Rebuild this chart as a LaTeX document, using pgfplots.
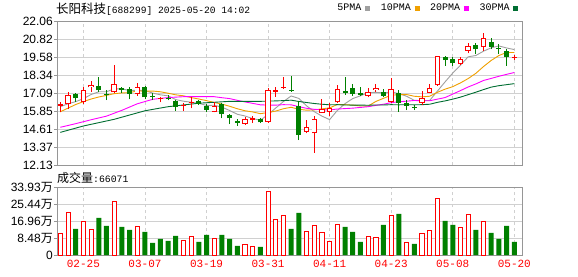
\documentclass[border=0pt]{standalone}
\usepackage{fontspec}
\setmainfont{Liberation Sans}
\newfontfamily\cjk{Noto Sans CJK SC}
\newfontfamily\mono{Liberation Mono}
\usepackage{pgfplots}
\usepackage{pgfplotstable}
\pgfplotsset{compat=1.18}
\definecolor{kred}{RGB}{255,0,0}
\definecolor{kgreen}{RGB}{0,128,0}
\definecolor{maA}{RGB}{160,160,160}
\definecolor{maB}{RGB}{240,160,0}
\definecolor{maC}{RGB}{255,0,255}
\definecolor{maD}{RGB}{0,110,50}
\definecolor{gridc}{RGB}{208,208,208}
\definecolor{framec}{RGB}{150,150,150}

% hollow up candles
\pgfplotstableread{
i o h l c
1 16.34 17.14 15.99 16.94
3 16.45 17.51 16.32 17.28
4 17.49 17.92 17.18 17.65
7 17.14 19.03 17.07 17.69
10 17.01 17.76 16.91 17.49
20 15.80 16.50 15.76 16.22
24 14.98 15.46 14.89 15.28
27 15.12 17.42 15.05 17.28
32 14.43 15.23 14.31 14.73
33 14.31 15.51 12.98 15.30
34 15.70 16.66 15.70 15.97
35 15.80 16.43 15.51 16.08
36 16.45 17.65 16.39 17.35
40 16.89 17.42 16.80 17.14
41 17.30 17.69 17.18 17.46
43 16.50 18.15 16.43 17.35
47 16.39 17.23 16.27 16.77
48 17.12 17.72 17.07 17.42
49 17.63 19.65 17.60 19.65
52 19.09 19.60 19.03 19.46
53 20.01 20.52 19.83 20.34
55 20.25 21.25 20.01 20.87
}\uph
% small up candles
\pgfplotstableread{
i o h l c
0 16.22 16.50 15.76 16.34
13 16.68 16.84 16.45 16.75
16 16.20 16.43 15.87 16.27
17 16.39 16.84 16.04 16.50
25 15.23 15.53 15.01 15.35
28 17.18 17.53 16.84 17.30
29 17.46 18.22 17.37 17.53
59 19.50 19.70 19.40 19.57
}\ups
% down candles
\pgfplotstableread{
i o h l c
2 17.03 17.12 16.50 16.73
5 17.58 18.18 17.18 17.30
6 17.02 17.30 16.61 16.95
8 17.42 17.49 17.12 17.32
9 17.35 17.49 16.66 17.01
11 17.49 17.55 16.66 16.80
12 16.91 17.07 16.61 16.84
14 16.73 16.96 16.59 16.66
15 16.54 16.61 15.87 16.15
18 16.52 16.61 16.27 16.34
19 16.22 16.32 15.76 15.92
21 16.34 16.43 15.35 15.63
22 15.58 15.63 14.94 15.35
23 15.16 15.28 14.82 15.05
26 15.28 15.35 15.01 15.07
30 17.33 18.29 17.18 17.26
31 16.20 16.55 13.85 14.20
37 17.23 18.22 16.96 17.12
38 17.42 17.72 16.89 17.01
39 17.07 17.53 16.89 16.96
42 17.14 17.35 16.84 16.91
44 17.12 17.30 15.80 16.43
45 16.43 16.61 15.92 16.20
46 16.15 16.27 15.92 16.08
50 19.56 19.65 18.98 19.37
51 19.42 19.60 18.98 19.14
54 20.40 20.52 19.78 20.11
56 20.59 20.87 20.11 20.25
57 20.22 20.47 19.78 20.15
58 20.01 20.11 18.98 19.60
}\dn

\pgfplotstableread{
i v
0 16.15
1 16.35
2 16.50
3 16.70
4 16.99
5 17.18
6 17.18
7 17.38
8 17.38
9 17.26
10 17.29
11 17.26
12 17.09
13 16.97
14 16.90
15 16.64
16 16.53
17 16.46
18 16.38
19 16.24
20 16.25
21 16.12
22 15.89
23 15.63
24 15.51
25 15.33
26 15.22
27 15.61
28 16.06
29 16.51
30 16.89
31 16.72
32 16.21
33 15.81
34 15.50
35 15.26
36 15.89
37 16.36
38 16.71
39 16.90
40 17.12
41 17.14
42 17.10
43 17.16
44 17.06
45 16.87
46 16.59
47 16.57
48 16.58
49 17.22
50 17.86
51 18.47
52 19.01
53 19.59
54 19.68
55 19.98
56 20.21
57 20.34
58 20.20
59 20.09
}\maFive

\pgfplotstableread{
i v
0 15.80
1 16.05
2 16.30
3 16.50
4 16.68
5 16.82
6 16.93
7 17.05
8 17.10
9 17.12
10 17.24
11 17.22
12 17.23
13 17.18
14 17.08
15 16.97
16 16.90
17 16.78
18 16.68
19 16.57
20 16.44
21 16.33
22 16.18
23 16.01
24 15.87
25 15.79
26 15.67
27 15.75
28 15.85
29 16.01
30 16.11
31 15.97
32 15.91
33 15.93
34 16.00
35 16.07
36 16.30
37 16.29
38 16.26
39 16.20
40 16.19
41 16.51
42 16.73
43 16.94
44 16.98
45 16.99
46 16.87
47 16.83
48 16.87
49 17.14
50 17.36
51 17.53
52 17.79
53 18.09
54 18.45
55 18.92
56 19.34
57 19.68
58 19.89
59 19.89
}\maTen

\pgfplotstableread{
i v
0 14.73
2 14.98
4 15.25
6 15.50
8 15.90
10 16.35
12 16.66
14 16.78
16 16.84
18 16.84
19 16.85
20 16.84
21 16.77
22 16.71
23 16.59
24 16.48
25 16.38
26 16.28
27 16.26
28 16.26
29 16.29
30 16.28
31 16.15
32 16.04
33 15.97
34 15.94
35 15.93
36 15.99
37 16.02
38 16.05
39 16.10
40 16.15
41 16.24
42 16.32
43 16.43
44 16.49
45 16.53
46 16.58
47 16.56
48 16.56
49 16.67
50 16.78
51 17.02
52 17.26
53 17.51
54 17.72
55 17.96
56 18.10
57 18.25
58 18.38
59 18.51
}\maTwenty

\pgfplotstableread{
i v
0 14.38
3 14.82
7 15.28
11 15.87
14 16.15
18 16.39
22 16.52
26 16.52
28 16.55
29 16.57
30 16.60
31 16.51
32 16.44
33 16.37
34 16.32
35 16.28
36 16.29
37 16.27
38 16.26
39 16.26
40 16.25
41 16.27
42 16.27
43 16.29
44 16.28
45 16.29
46 16.28
47 16.29
48 16.32
49 16.45
50 16.55
51 16.67
52 16.81
53 16.98
54 17.15
55 17.33
56 17.50
57 17.60
58 17.67
59 17.74
}\maThirty

% volume (10k shares)
\pgfplotstableread{
i v
0 10.8
1 21.3
3 16.8
4 12.8
7 26.9
10 14.3
16 7.3
17 9.5
20 8.5
24 5.3
25 4.5
27 31.9
28 18.0
29 20.0
32 12.0
33 14.8
34 11.3
35 7.0
36 15.3
40 9.5
41 9.0
43 20.0
45 6.5
47 11.0
48 12.5
49 28.4
52 14.0
53 20.3
55 17.0
}\volup

\pgfplotstableread{
i v
2 13.0
5 18.5
6 14.5
8 14.0
9 12.5
11 11.5
12 6.0
13 8.0
14 7.0
15 9.5
18 6.5
19 10.0
21 10.0
22 8.0
23 4.5
26 4.0
30 13.0
31 21.0
37 14.0
38 11.5
39 6.5
42 15.0
44 20.5
46 5.5
50 17.0
51 15.0
54 12.5
56 11.0
57 8.0
58 14.5
59 6.6
}\voldn

\pgfplotsset{
  kframe/.style={
    scale only axis, width=465pt,
    xmin=-0.43, xmax=60,
    axis line style={framec, line width=0.8pt},
    xtick={3,11,19,27,35,43,51,59},
    xmajorgrids, ymajorgrids,
    x grid style={gridc, line width=0.8pt, dash pattern=on 3pt off 3pt},
    y grid style={gridc, line width=0.8pt},
    xtick style={draw=none},
    ytick style={framec, line width=0.8pt},
    major tick length=3pt, tick align=outside,
    ytick pos=left,
    yticklabel style={font=\fontsize{12}{13}\selectfont, inner sep=1pt},
  },
  wick/.style={draw=none, mark=none, forget plot,
    error bars/.cd, y dir=plus, y explicit, error mark=none,
    error bar style={draw=#1, line width=0.9pt}},
  body/.style 2 args={draw=none, mark=none, forget plot,
    error bars/.cd, y dir=plus, y explicit, error mark=none,
    error bar style={draw=#1, line width=#2}},
}

\begin{document}
\begin{tikzpicture}
\fill[white] (0,0) rectangle (578pt,276pt);
\path[use as bounding box] (0,0) rectangle (578pt,276pt);

\node[anchor=west, inner sep=0pt] at (56pt,266.5pt)
  {{\cjk\fontsize{12.5}{14}\selectfont 长阳科技}{\mono\fontsize{9.6}{11}\selectfont[688299] 2025-05-20 14:02}};

\begin{axis}[kframe,
  at={(57pt,111pt)}, anchor=south west, height=144pt,
  ymin=12.13, ymax=22.06,
  xticklabels={},
  ytick={12.13,13.37,14.61,15.85,17.09,18.34,19.58,20.82,22.06},
  yticklabels={12.13,13.37,14.61,15.85,17.09,18.34,19.58,20.82,22.06},
  legend plot pos=right,
  legend columns=4,
  legend image code/.code={\draw[line width=5pt] (0pt,0pt) -- (5pt,0pt);},
  legend style={at={(0.600,1.09)}, anchor=west, draw=none, fill=none,
    inner sep=0pt, font=\mono\fontsize{10}{11}\selectfont,
    nodes={inner sep=1.2pt},
    /tikz/every even column/.append style={column sep=7pt}},
]
\addplot[maA, line width=0.9pt, mark=none] table[x=i, y=v] {\maFive};
\addlegendentry{5PMA}
\addplot[maB, line width=0.9pt, mark=none] table[x=i, y=v] {\maTen};
\addlegendentry{10PMA}
\addplot[maC, line width=0.9pt, mark=none] table[x=i, y=v] {\maTwenty};
\addlegendentry{20PMA}
\addplot[maD, line width=0.9pt, mark=none] table[x=i, y=v] {\maThirty};
\addlegendentry{30PMA}

% wicks
\addplot[wick=kred] table[x=i, y=l, y error plus expr=\thisrow{h}-\thisrow{l}] {\uph};
\addplot[wick=kred] table[x=i, y=l, y error plus expr=\thisrow{h}-\thisrow{l}] {\ups};
\addplot[wick=kgreen] table[x=i, y=l, y error plus expr=\thisrow{h}-\thisrow{l}] {\dn};
% bodies
\addplot[body={kgreen}{5pt}] table[x=i, y=c, y error plus expr=\thisrow{o}-\thisrow{c}] {\dn};
\addplot[body={kred}{5.2pt}] table[x=i, y=o, y error plus expr=\thisrow{c}-\thisrow{o}] {\ups};
\addplot[body={kred}{5.4pt}] table[x=i, y=o, y error plus expr=\thisrow{c}-\thisrow{o}] {\uph};
\addplot[draw=none, mark=none, forget plot,
    error bars/.cd, y dir=plus, y explicit, error mark=none,
    error bar style={draw=white, line width=3.6pt, shorten <=0.9pt, shorten >=0.9pt}]
  table[x=i, y=o, y error plus expr=\thisrow{c}-\thisrow{o}] {\uph};
\end{axis}

\node[anchor=west, inner sep=0pt] at (57pt,98pt)
  {{\cjk\fontsize{12}{13}\selectfont 成交量}{\mono\fontsize{9.8}{11}\selectfont:66071}};

\begin{axis}[kframe,
  at={(57pt,21pt)}, anchor=south west, height=68pt,
  ymin=0, ymax=33.93,
  xticklabels={02-25,03-07,03-19,03-31,04-11,04-23,05-08,05-20},
  xticklabel style={font=\mono\fontsize{11}{12}\selectfont, text=kred, inner sep=2pt},
  ytick={0,8.48,16.96,25.44,33.93},
  yticklabels={0,8.48{\cjk 万},16.96{\cjk 万},25.44{\cjk 万},33.93{\cjk 万}},
]
\addplot[ybar, bar width=4.2pt, bar shift=0pt, draw=kred, fill=white, line width=0.8pt]
  table[x=i, y=v] {\volup};
\addplot[ybar, bar width=5pt, bar shift=0pt, draw=none, fill=kgreen]
  table[x=i, y=v] {\voldn};
\end{axis}
\end{tikzpicture}
\end{document}
